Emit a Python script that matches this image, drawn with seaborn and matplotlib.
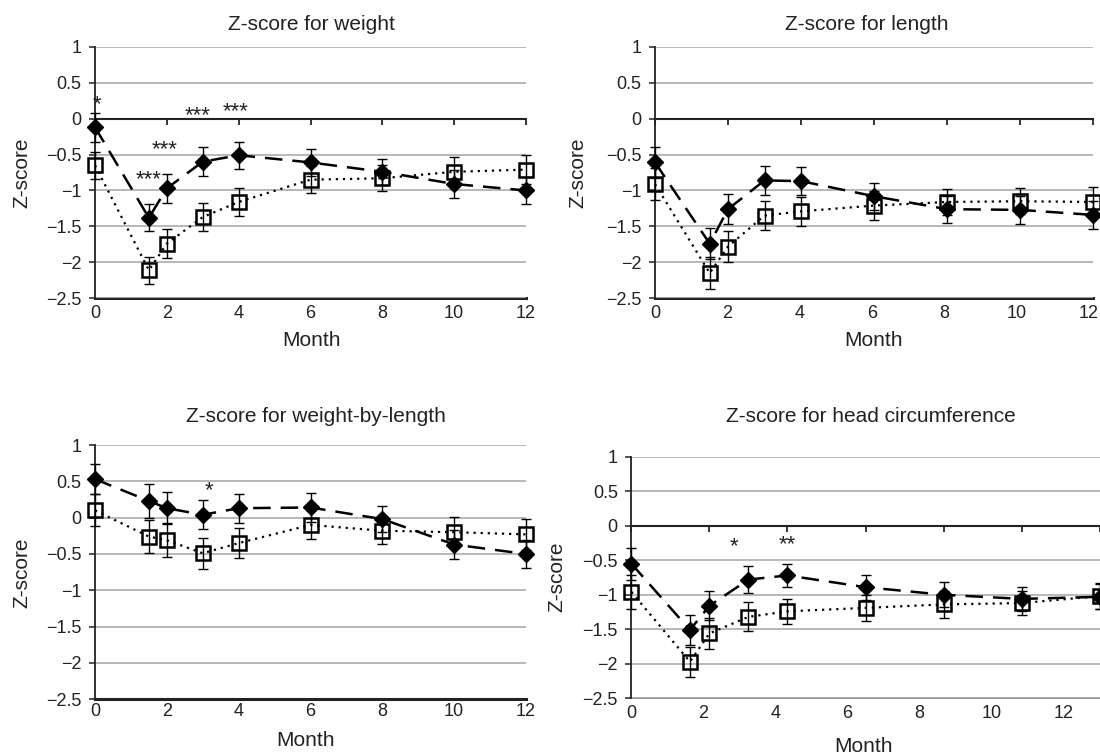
import matplotlib
matplotlib.use('Agg')
import matplotlib.pyplot as plt
import seaborn as sns
from matplotlib.ticker import MultipleLocator, FuncFormatter

# Data
# ------------------------------------
months = [0, 1.5, 2, 3, 4, 6, 8, 10, 12]
month_ticks = [0, 2, 4, 6, 8, 10, 12]

weight_a = [-0.12, -1.38, -0.97, -0.60, -0.51, -0.61, -0.74, -0.91, -1.00]
weight_a_err = [0.20, 0.19, 0.20, 0.20, 0.19, 0.19, 0.18, 0.19, 0.19]
weight_b = [-0.65, -2.11, -1.74, -1.37, -1.16, -0.85, -0.83, -0.74, -0.71]
weight_b_err = [0.19, 0.19, 0.20, 0.20, 0.19, 0.19, 0.18, 0.20, 0.20]

length_a = [-0.61, -1.74, -1.26, -0.86, -0.87, -1.08, -1.26, -1.27, -1.34]
length_a_err = [0.22, 0.22, 0.21, 0.20, 0.19, 0.19, 0.19, 0.19, 0.20]
length_b = [-0.91, -2.15, -1.78, -1.35, -1.29, -1.21, -1.16, -1.15, -1.16]
length_b_err = [0.22, 0.22, 0.21, 0.20, 0.20, 0.20, 0.18, 0.18, 0.21]

wfl_a = [0.53, 0.23, 0.13, 0.04, 0.13, 0.14, -0.02, -0.37, -0.50]
wfl_a_err = [0.21, 0.23, 0.22, 0.20, 0.20, 0.20, 0.18, 0.20, 0.19]
wfl_b = [0.10, -0.26, -0.31, -0.49, -0.35, -0.10, -0.18, -0.20, -0.23]
wfl_b_err = [0.22, 0.23, 0.23, 0.21, 0.21, 0.20, 0.18, 0.21, 0.21]

head_a = [-0.55, -1.51, -1.16, -0.78, -0.72, -0.89, -1.00, -1.06, -1.03]
head_a_err = [0.23, 0.22, 0.21, 0.20, 0.17, 0.18, 0.18, 0.17, 0.18]
head_b = [-0.96, -1.97, -1.56, -1.32, -1.24, -1.19, -1.14, -1.12, -1.02]
head_b_err = [0.24, 0.22, 0.22, 0.21, 0.18, 0.19, 0.19, 0.18, 0.19]

titles = ['Z-score for weight', 'Z-score for length',
          'Z-score for weight-by-length', 'Z-score for head circumference']

# significance marks: (text, month, z)
weight_stars = [('*', 0.05, 0.19), ('***', 2.85, 0.04), ('***', 3.92, 0.09),
                ('***', 1.95, -0.43), ('***', 1.48, -0.85)]
length_stars = []
wfl_stars = [('*', 3.17, 0.37)]
head_stars = [('*', 2.63, -0.30), ('**', 4.0, -0.28)]

sns.set_theme(style='white')
plt.rcParams['font.family'] = ['Liberation Sans', 'DejaVu Sans']
plt.rcParams['axes.unicode_minus'] = True

W, H = 1100, 755
fig = plt.figure(figsize=(W / 100, H / 100), dpi=100)


def box(left, right, top, bottom):
    return [left / W, 1 - bottom / H, (right - left) / W, (bottom - top) / H]


def zfmt(v, pos):
    return ('%g' % v).replace('-', '\u2212')


def drawPanel(ax, a, a_err, b, b_err, stars, zero_axis=True, bottom_color='black',
              label_scale=1.0):
    ax.set_xlim(0, 12)
    ax.set_ylim(-2.5, 1)
    ax.yaxis.set_major_locator(MultipleLocator(0.5))
    ax.yaxis.set_major_formatter(FuncFormatter(zfmt))
    ax.grid(axis='y', color='#b2b2b2', lw=1.3)
    ax.grid(axis='x', visible=False)
    ax.set_axisbelow(True)
    for s in ['top', 'right']:
        ax.spines[s].set_visible(False)
    ax.spines['left'].set_color('#222222')
    ax.spines['left'].set_linewidth(1.3)
    ax.tick_params(axis='y', left=True, direction='out', length=4.3, width=1.1,
                   pad=5.5, labelsize=13, colors='#222222')

    # error bars
    ax.errorbar(months, a, yerr=a_err, fmt='none', ecolor='black', elinewidth=1.0,
                capsize=3.5, capthick=1.0, clip_on=False, zorder=3)
    ax.errorbar(months, b, yerr=b_err, fmt='none', ecolor='black', elinewidth=1.0,
                capsize=3.5, capthick=1.0, clip_on=False, zorder=3)

    sns.lineplot(x=months, y=a, ax=ax, color='black', lw=1.8,
                 linestyle=(0, (7, 4)), marker='D', markersize=8,
                 markerfacecolor='black', markeredgecolor='black',
                 markeredgewidth=1, clip_on=False, zorder=4)
    sns.lineplot(x=months, y=b, ax=ax, color='black', lw=1.6,
                 linestyle=(0, (1, 2.2)), marker='s', markersize=9.5,
                 markerfacecolor='none', markeredgecolor='black',
                 markeredgewidth=1.8, clip_on=False, zorder=4)

    for txt, mx, my in stars:
        ax.text(mx, my, txt, ha='center', va='center', fontsize=16, color='#222222')

    ax.set_xticks(month_ticks)
    if zero_axis:
        ax.spines['bottom'].set_position(('data', 0))
        ax.spines['bottom'].set_color('#222222')
        ax.spines['bottom'].set_linewidth(1.5)
        ax.tick_params(axis='x', bottom=True, direction='out', length=4.5, width=1.3,
                       labelbottom=False)
        sec = ax.secondary_xaxis(0.0, functions=(lambda d: d * label_scale,
                                                 lambda l: l / label_scale))
        sec.set_xticks(month_ticks)
        sec.tick_params(axis='x', length=0, pad=5, labelsize=13, colors='#222222')
        sec.spines['bottom'].set_color(bottom_color)
        sec.spines['bottom'].set_linewidth(2.2 if bottom_color == '#222222' else 1.3)
    else:
        ax.spines['bottom'].set_color('#222222')
        ax.spines['bottom'].set_linewidth(2.2)
        ax.tick_params(axis='x', bottom=False, length=0, pad=3, labelsize=13,
                       colors='#222222')
    ax.set_xlabel('')
    ax.set_ylabel('')


ax1 = fig.add_axes(box(95, 526, 46.7, 298.3))
drawPanel(ax1, weight_a, weight_a_err, weight_b, weight_b_err, weight_stars,
          bottom_color='#222222')

ax2 = fig.add_axes(box(655, 1093, 46.7, 298.3))
drawPanel(ax2, length_a, length_a_err, length_b, length_b_err, length_stars,
          bottom_color='#222222', label_scale=1.01)

ax3 = fig.add_axes(box(95, 526, 445, 699.3))
drawPanel(ax3, wfl_a, wfl_a_err, wfl_b, wfl_b_err, wfl_stars, zero_axis=False)

ax4 = fig.add_axes(box(631.4, 1099.6, 456.7, 698.3))
drawPanel(ax4, head_a, head_a_err, head_b, head_b_err, head_stars,
          bottom_color='#888888', label_scale=13 / 12)

# titles and axis labels
lab = dict(fontsize=15, color='#222222', ha='center', va='center')
fig.text(311 / W, 1 - 25 / H, titles[0], **lab)
fig.text(867 / W, 1 - 25 / H, titles[1], **lab)
fig.text(316 / W, 1 - 417 / H, titles[2], **lab)
fig.text(871 / W, 1 - 417 / H, titles[3], **lab)

fig.text(311 / W, 1 - 341 / H, 'Month', **lab)
fig.text(874 / W, 1 - 341 / H, 'Month', **lab)
fig.text(306 / W, 1 - 740 / H, 'Month', **lab)
fig.text(863 / W, 1 - 746 / H, 'Month', **lab)

fig.text(22 / W, 1 - 173 / H, 'Z-score', rotation=90, **lab)
fig.text(578 / W, 1 - 173 / H, 'Z-score', rotation=90, **lab)
fig.text(22 / W, 1 - 573 / H, 'Z-score', rotation=90, **lab)
fig.text(557 / W, 1 - 577 / H, 'Z-score', rotation=90, **lab)

fig.savefig('out.png', dpi=100)
